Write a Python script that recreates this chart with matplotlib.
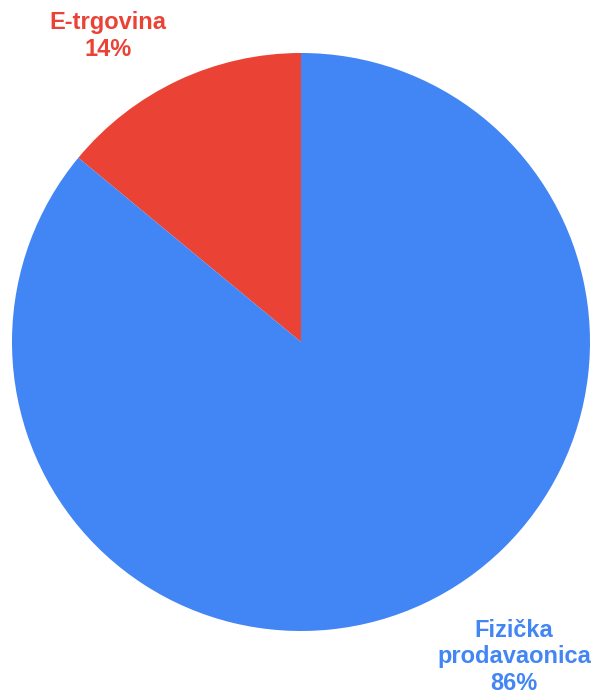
import matplotlib.pyplot as plt

plt.rcParams['font.family'] = ['Liberation Sans', 'DejaVu Sans']

categories = ["E-trgovina", "Fizička\nprodavaonica"]
shares = [14, 86]
colors = ["#EA4335", "#4285F4"]

W, H = 595, 695
fig = plt.figure(figsize=(W / 100, H / 100), dpi=100)
ax = fig.add_axes([0, 0, 1, 1])

ax.pie(shares, colors=colors, startangle=90, counterclock=True,
       center=(301, H - 342), radius=289,
       wedgeprops=dict(linewidth=0))

# labels outside the pie
label_pos = [(108, H - 36), (514, H - 657)]
for name, val, col, (x, y) in zip(categories, shares, colors, label_pos):
    ax.text(x, y, "{}\n{}%".format(name, val), color=col, fontsize=17,
            fontweight='bold', ha='center', va='center', linespacing=1.2)

ax.set_xlim(0, W)
ax.set_ylim(0, H)
ax.set_aspect('equal')
ax.axis('off')

fig.patch.set_facecolor("white")
plt.savefig("out.png", dpi=100)
